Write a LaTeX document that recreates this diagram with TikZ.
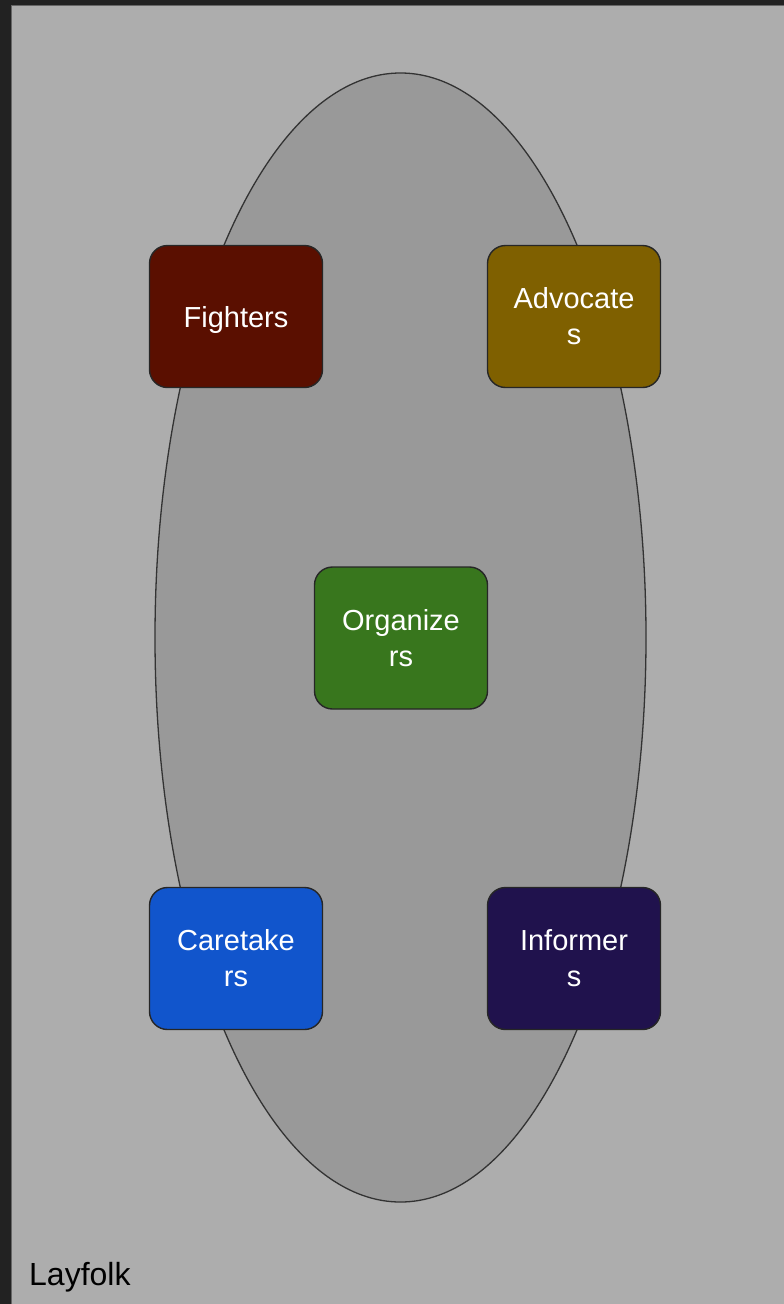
\documentclass[tikz,border=0pt]{standalone}
\usepackage{fontspec}
\setmainfont{Liberation Sans}
\begin{document}
\begin{tikzpicture}[x=1pt,y=-1pt,
  role/.style={draw=black!85,line width=1.4pt,rounded corners=18pt,minimum width=173pt,minimum height=142pt,text=white,align=center,font=\fontsize{29}{36}\selectfont,inner sep=0pt}]
\definecolor{outer}{HTML}{222222}
\definecolor{bg}{HTML}{ADADAD}
\definecolor{ell}{HTML}{999999}
\definecolor{cF}{HTML}{5A0F00}
\definecolor{cA}{HTML}{7F6000}
\definecolor{cO}{HTML}{38761D}
\definecolor{cC}{HTML}{1155CC}
\definecolor{cI}{HTML}{20124D}
\useasboundingbox (0,0) rectangle (784,1304);
\fill[outer] (0,0) rectangle (784,1304);
\fill[bg,draw=black!60,line width=1pt] (11,5) rectangle (790,1310);
\draw[fill=ell,draw=black!80,line width=1.3pt] (400.5,637.5) ellipse [x radius=245.5,y radius=564.5];
\node[role,fill=cF,text height=21pt,text depth=0pt] (fighters) at (236,316.5) {Fighters};
\node[role,fill=cA] (advocates) at (574,316.5) {Advocate\\s};
\node[role,fill=cO] (organizers) at (401,638) {Organize\\rs};
\node[role,fill=cC] (caretakers) at (236,958.5) {Caretake\\rs};
\node[role,fill=cI] (informers) at (574,958.5) {Informer\\s};
\node[anchor=base west,font=\fontsize{32}{38}\selectfont,inner sep=0pt] (layfolk) at (29,1285) {Layfolk};
\end{tikzpicture}
\end{document}
